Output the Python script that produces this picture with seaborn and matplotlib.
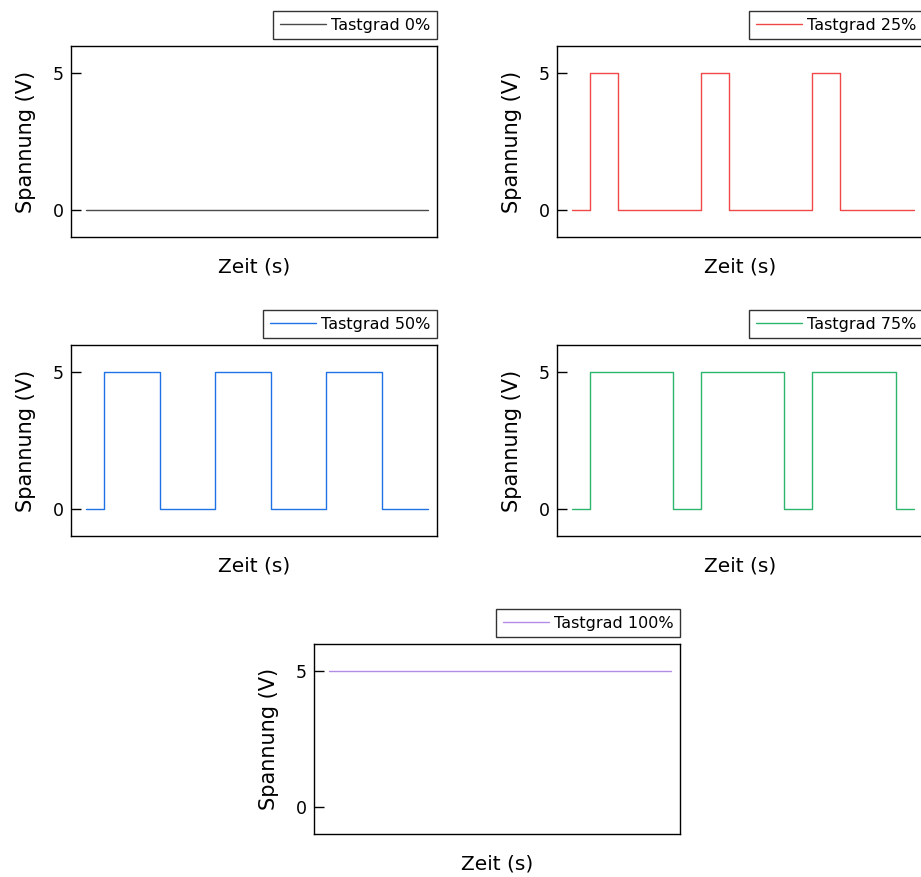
import pandas as pd
import seaborn as sns
import matplotlib.pyplot as plt

sns.set_theme(style="white")
plt.rcParams["font.family"] = ["DejaVu Sans"]
plt.rcParams["text.color"] = "black"
plt.rcParams["axes.labelcolor"] = "black"
plt.rcParams["ytick.color"] = "black"

# Signals in units of one period, step values (steps-post)
t_0 = [0.0, 3.075]
v_0 = [0, 0]

t_25 = [0.0, 0.162, 0.412, 1.16, 1.41, 2.16, 2.41, 3.075]
v_25 = [0, 5, 0, 5, 0, 5, 0, 0]

t_50 = [0.0, 0.162, 0.662, 1.16, 1.66, 2.16, 2.66, 3.075]
v_50 = [0, 5, 0, 5, 0, 5, 0, 0]

t_75 = [0.0, 0.162, 0.912, 1.16, 1.91, 2.16, 2.91, 3.075]
v_75 = [0, 5, 0, 5, 0, 5, 0, 0]

t_100 = [0.0, 3.075]
v_100 = [5, 5]

labels = ["Tastgrad 0%", "Tastgrad 25%", "Tastgrad 50%", "Tastgrad 75%", "Tastgrad 100%"]
colors = ["#4a4a4a", "#f04848", "#1f72e6", "#2db56c", "#b38ce6"]
series = [(t_0, v_0), (t_25, v_25), (t_50, v_50), (t_75, v_75), (t_100, v_100)]

W, H = 921, 877
fig = plt.figure(figsize=(W / 100, H / 100), dpi=100)

# axes boxes in pixels: left, top, right, bottom
boxes = [
    (71, 46, 437, 237),
    (557, 46, 923, 237),
    (71, 345, 437, 536),
    (557, 345, 923, 536),
    (314, 644, 680, 834),
]

for (l, t, r, b), lab, col, (tt, vv) in zip(boxes, labels, colors, series):
    ax = fig.add_axes([l / W, 1 - b / H, (r - l) / W, (b - t) / H])
    df = pd.DataFrame({"t": tt, "v": vv})
    sns.lineplot(data=df, x="t", y="v", ax=ax, color=col, linewidth=1.0,
                 drawstyle="steps-post", estimator=None, label=lab)
    ax.set_xlim(-0.135, 3.156)
    ax.set_ylim(-1, 6)
    ax.set_xticks([])
    ax.set_yticks([0, 5])
    ax.tick_params(axis="y", direction="in", length=7, width=1, color="black",
                   labelsize=12.5, pad=5, left=True)
    for sp in ax.spines.values():
        sp.set_color("black")
        sp.set_linewidth(1.0)
    ax.set_xlabel("Zeit (s)", fontsize=14.5, labelpad=15)
    ax.set_ylabel("Spannung (V)", fontsize=15, labelpad=12)
    leg = ax.legend(loc="lower right", bbox_to_anchor=(1.0, 1.035), borderaxespad=0,
                    frameon=True, fancybox=False, fontsize=11.5, handlelength=2.9,
                    borderpad=0.42, handletextpad=0.3)
    leg.get_frame().set_edgecolor("black")
    leg.get_frame().set_linewidth(1.0)

fig.savefig("out.png", dpi=100)
